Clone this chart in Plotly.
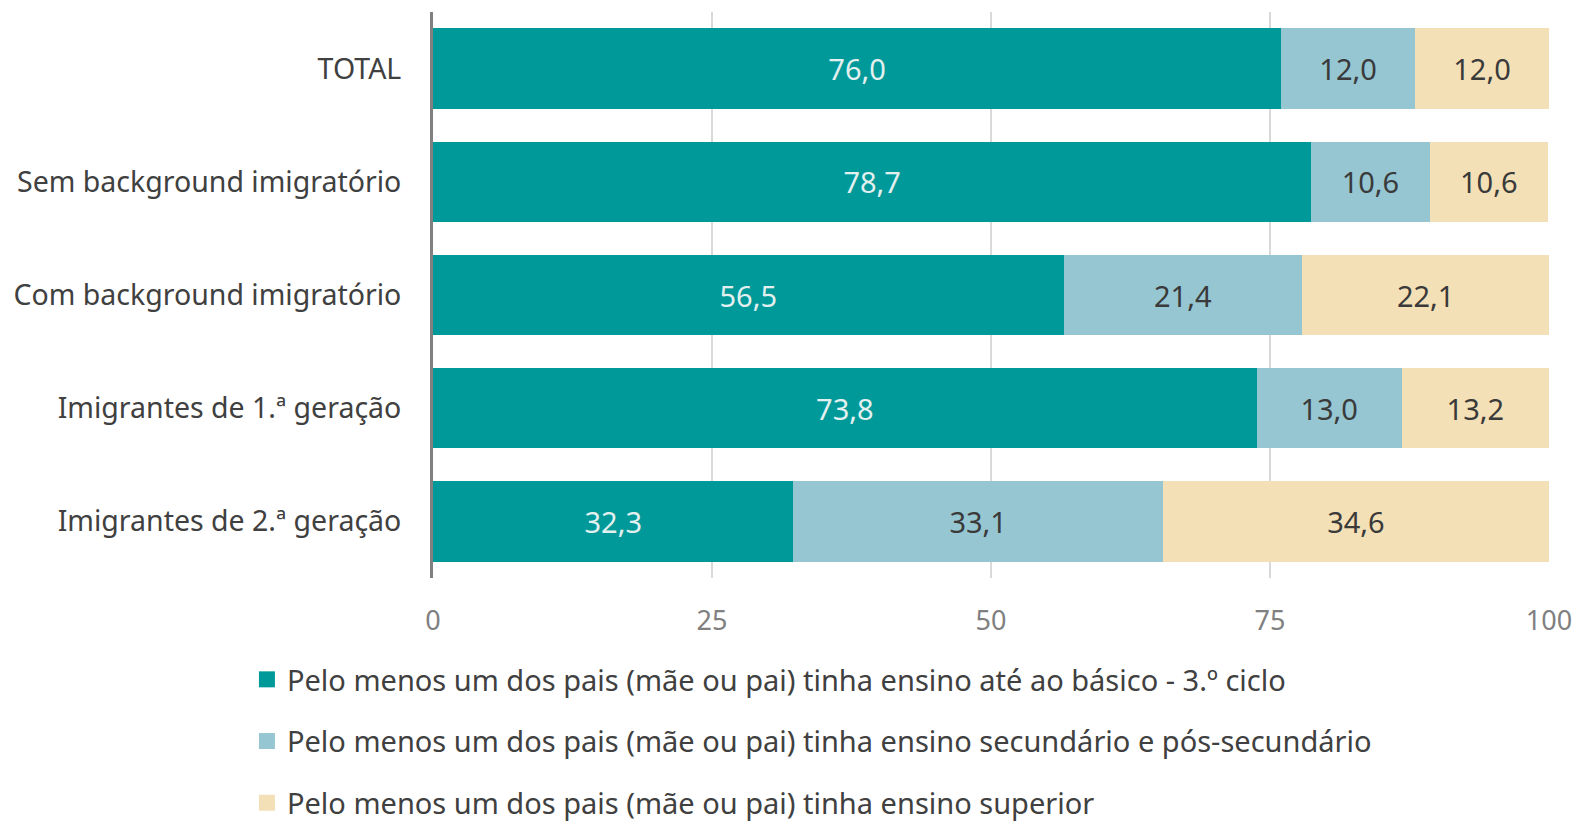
import plotly.graph_objects as go

categories = ["TOTAL", "Sem background imigratório", "Com background imigratório",
              "Imigrantes de 1.ª geração", "Imigrantes de 2.ª geração"]
basico = [76.0, 78.7, 56.5, 73.8, 32.3]
secundario = [12.0, 10.6, 21.4, 13.0, 33.1]
superior = [12.0, 10.6, 22.1, 13.2, 34.6]
series_names = [
    "Pelo menos um dos pais (mãe ou pai) tinha ensino até ao básico - 3.º ciclo",
    "Pelo menos um dos pais (mãe ou pai) tinha ensino secundário e pós-secundário",
    "Pelo menos um dos pais (mãe ou pai) tinha ensino superior",
]
colors = ["#009999", "#95C6D2", "#F4E0B6"]
label_colors = ["#E3F0F0", "#3A3A3A", "#3A3A3A"]
tick_vals = [0, 25, 50, 75, 100]

FONT = "Noto Sans"
fig = go.Figure()
for vals, name, col, lc in zip([basico, secundario, superior], series_names, colors, label_colors):
    fig.add_trace(go.Bar(
        y=categories, x=vals, orientation="h", name=name,
        marker=dict(color=col, line=dict(width=0)),
        text=[f"{v:.1f}".replace(".", ",") for v in vals],
        textposition="inside", insidetextanchor="middle",
        textfont=dict(family=FONT, size=29, color=lc),
        showlegend=False, hoverinfo="skip",
    ))
    fig.add_trace(go.Scatter(
        x=[None], y=[None], mode="markers", name=name,
        marker=dict(symbol="square", size=16, color=col),
        showlegend=True, legendgroup=name,
    ))

fig.update_layout(
    barmode="stack", bargap=0.29,
    width=1572, height=814,
    margin=dict(l=425, r=31, t=4, b=244, autoexpand=False),
    paper_bgcolor="white", plot_bgcolor="white",
    font=dict(family=FONT, size=29, color="#404040"),
    uniformtext=dict(mode="show", minsize=10),
    legend=dict(
        xref="container", yref="container",
        x=0.152, y=0.2064, xanchor="left", yanchor="top",
        orientation="v", tracegroupgap=21,
        font=dict(family=FONT, size=29, color="#404040"),
        itemwidth=30,
    ),
    showlegend=True,
)
fig.update_xaxes(
    range=[0, 100], tickvals=tick_vals, ticktext=[str(t) for t in tick_vals],
    showgrid=True, gridcolor="#D9D9D9", gridwidth=2,
    zeroline=False, showline=False, ticks="", automargin=False,
    tickfont=dict(family=FONT, size=27, color="#808080"),
    ticklabelstandoff=24,
)
fig.update_yaxes(
    autorange="reversed", showline=True, linecolor="#808080", linewidth=3,
    ticks="", ticklabelstandoff=23, automargin=False,
    tickfont=dict(family=FONT, size=28.5, color="#404040"),
)
fig.write_html("out.html")
